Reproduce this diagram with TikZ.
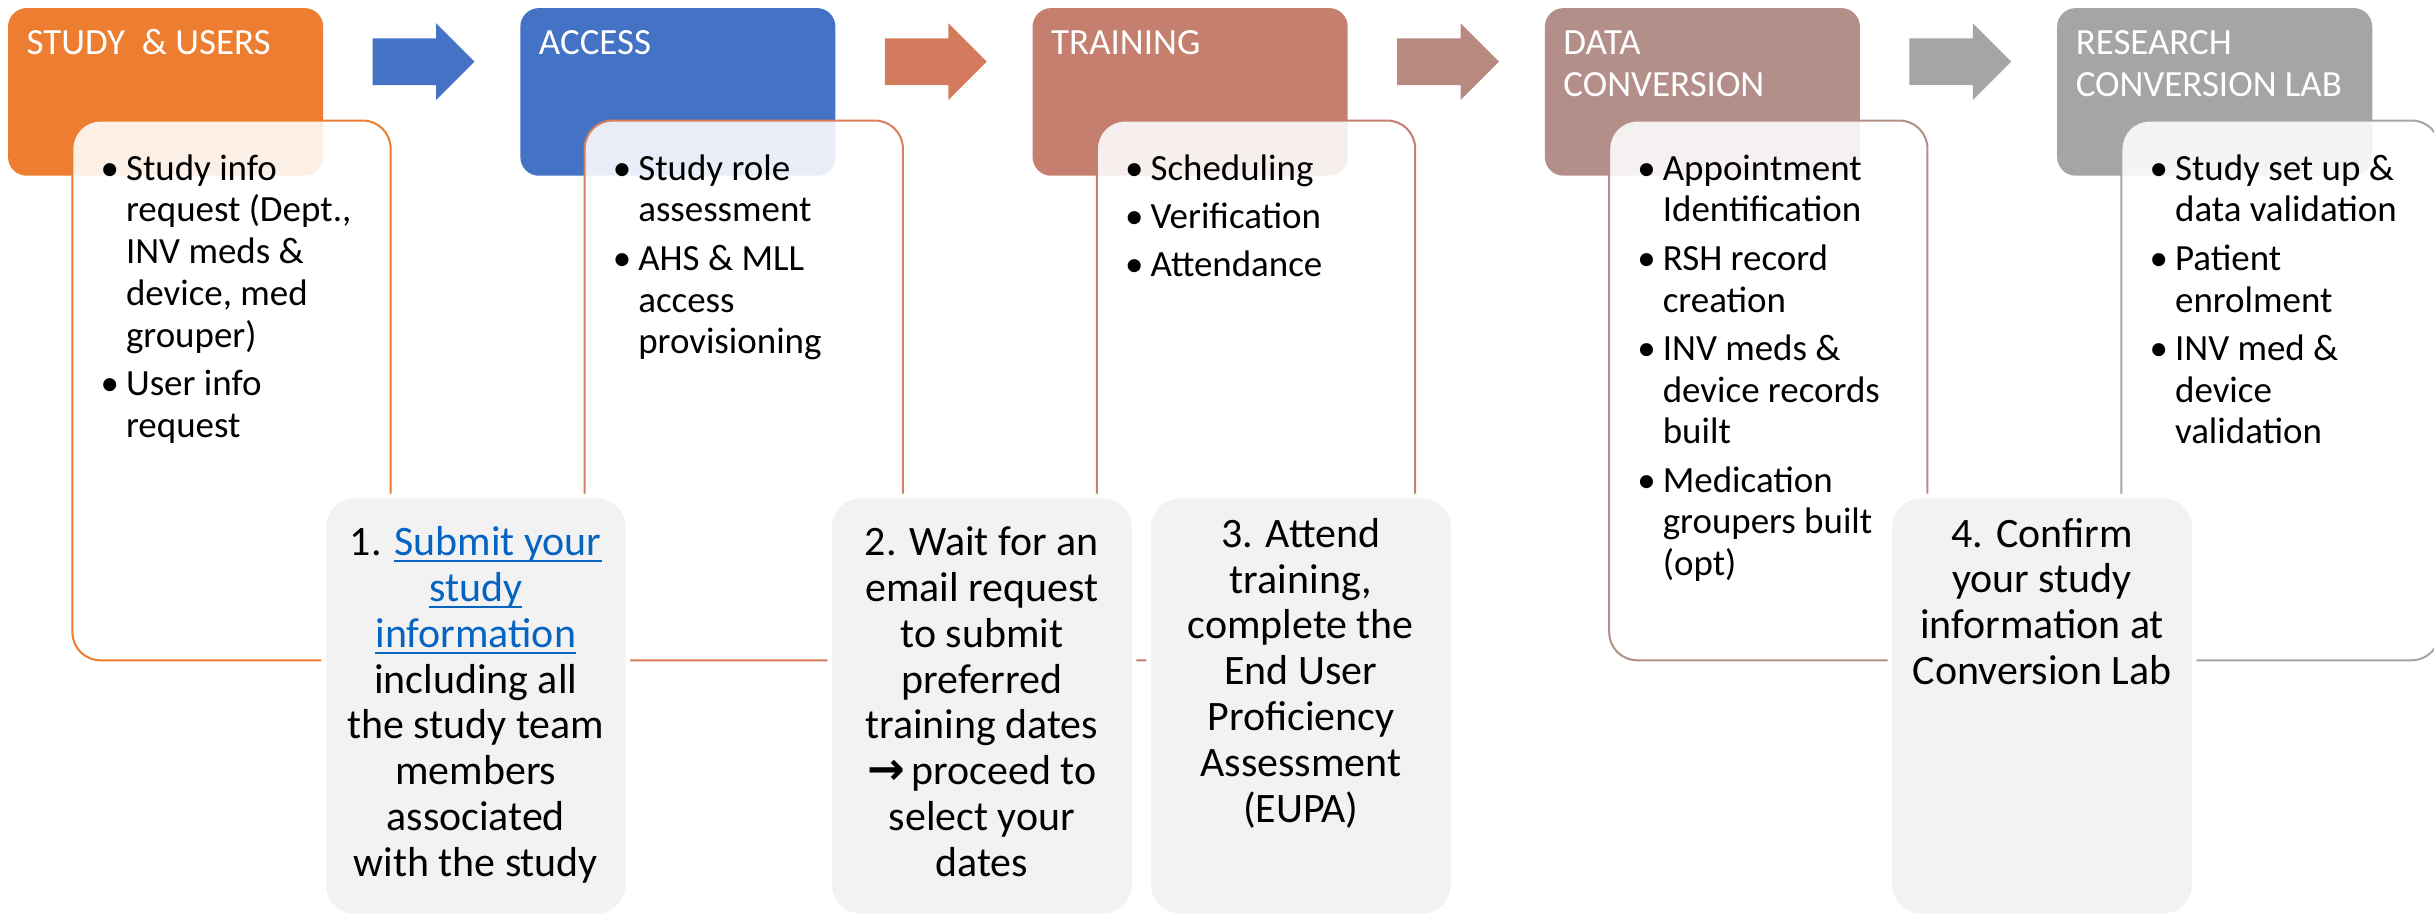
\documentclass[tikz,border=0pt]{standalone}
\usepackage{fontspec}
\setmainfont{Carlito}
\newfontfamily\symf{DejaVu Sans}
\definecolor{cOrange}{HTML}{ED7D31}
\definecolor{cBlue}{HTML}{4472C4}
\definecolor{cArr2}{HTML}{D37B5C}
\definecolor{cOut2}{HTML}{D87E5C}
\definecolor{cTrain}{HTML}{C47F6F}
\definecolor{cArr3}{HTML}{B98A82}
\definecolor{cData}{HTML}{B48F89}
\definecolor{cGray}{HTML}{A5A5A5}
\definecolor{cStep}{HTML}{F2F2F2}
\definecolor{linkblue}{HTML}{0563C1}
\newcommand\bul{\leavevmode\makebox[0pt][r]{\textbullet\hspace{4.5pt}}}
\newcommand\lnk[1]{\leavevmode{\color{linkblue}\setbox0\hbox{#1}\rlap{\rule[-4pt]{\wd0}{1.2pt}}\box0}}
\tikzset{
  hdr/.style={rectangle, rounded corners=12pt, minimum width=203pt, minimum height=108pt, anchor=north west, inner sep=0pt, draw=none},
  ttl/.style={anchor=base west, inner sep=0pt, text=white, font=\fontsize{23.8}{27}\selectfont, align=left},
  cbox/.style={rectangle, rounded corners=18pt, minimum width=205pt, minimum height=347.7pt, anchor=north west, inner sep=0pt, fill=white, fill opacity=0.88, line width=1.3pt},
  bultxt/.style={anchor=base west, inner sep=0pt, font=\fontsize{23.8}{27}\selectfont},
  stepbox/.style={rectangle, rounded corners=20pt, minimum width=196pt, minimum height=270.5pt, anchor=north west, inner sep=0pt, fill=cStep, draw=white, line width=3pt},
  steptxt/.style={anchor=base, inner sep=0pt, font=\fontsize{27}{29.5}\selectfont}
}
\begin{document}
\begin{tikzpicture}[x=1pt,y=-1pt]
\useasboundingbox (0,0) rectangle (1568,589.45);
\clip (0,0) rectangle (1568,589.45);
% headers
\node[hdr, fill=cOrange] (h1) at (5,5) {};
\node[hdr, fill=cBlue] (h2) at (335,5) {};
\node[hdr, fill=cTrain] (h3) at (665,5) {};
\node[hdr, fill=cData] (h4) at (995,5) {};
\node[hdr, fill=cGray] (h5) at (1325,5) {};
\node[ttl] (t1) at ([shift={(12pt,-30.4pt)}]h1.north west) {STUDY\ \ \& USERS};
\node[ttl] (t2) at ([shift={(12pt,-30.4pt)}]h2.north west) {ACCESS};
\node[ttl] (t3) at ([shift={(12pt,-30.4pt)}]h3.north west) {TRAINING};
\node[ttl] (t4) at ([shift={(12pt,-30.4pt)}]h4.north west) {\parbox[t]{190pt}{DATA\\CONVERSION}};
\node[ttl] (t5) at ([shift={(12pt,-30.4pt)}]h5.north west) {\parbox[t]{190pt}{RESEARCH\\CONVERSION LAB}};
% block arrows
\foreach \i/\c in {0/cBlue,1/cArr2,2/cArr3,3/cGray}{
  \fill[\c] ({240+330*\i},24.7) -- ({281+330*\i},24.7) -- ({281+330*\i},15) -- ({305.7+330*\i},39.7)
     -- ({281+330*\i},64.4) -- ({281+330*\i},54.8) -- ({240+330*\i},54.8) -- cycle;
}
% content boxes
\node[cbox, draw=cOrange] (c1) at (46,77) {};
\node[cbox, draw=cOut2] (c2) at (376,77) {};
\node[cbox, draw=cTrain] (c3) at (706,77) {};
\node[cbox, draw=cData] (c4) at (1036,77) {};
\node[cbox, draw=cGray] (c5) at (1366,77) {};
\node[bultxt] (b1) at ([shift={(35pt,-39pt)}]c1.north west) {\parbox[t]{170pt}{\raggedright
\bul Study info\\ request (Dept.,\\ INV meds \&\\ device, med\\ grouper)\\[4pt]
\bul User info\\ request}};
\node[bultxt] (b2) at ([shift={(35pt,-39pt)}]c2.north west) {\parbox[t]{170pt}{\raggedright
\bul Study role\\ assessment\\[4pt]
\bul AHS \& MLL\\ access\\ provisioning}};
\node[bultxt] (b3) at ([shift={(35pt,-39pt)}]c3.north west) {\parbox[t]{170pt}{\raggedright
\bul Scheduling\\[4pt]
\bul Verification\\[4pt]
\bul Attendance}};
\node[bultxt] (b4) at ([shift={(35pt,-39pt)}]c4.north west) {\parbox[t]{170pt}{\raggedright
\bul Appointment\\ Identification\\[4pt]
\bul RSH record\\ creation\\[4pt]
\bul INV meds \&\\ device records\\ built\\[4pt]
\bul Medication\\ groupers built\\ (opt)}};
\node[bultxt] (b5) at ([shift={(35pt,-39pt)}]c5.north west) {\parbox[t]{170pt}{\raggedright
\bul Study set up \&\\ data validation\\[4pt]
\bul Patient\\ enrolment\\[4pt]
\bul INV med \&\\ device\\ validation}};
% step boxes
\node[stepbox] (s1) at (207,318) {};
\node[stepbox] (s2) at (533,318) {};
\node[stepbox] (s3) at (738.5,318) {};
\node[stepbox] (s4) at (1216,318) {};
\node[steptxt] (st1) at ([yshift=-40pt]s1.north) {\parbox[t]{196pt}{\centering
1. \lnk{Submit your}\\ \lnk{study}\\ \lnk{information}\\ including all\\ the study team\\ members\\ associated\\ with the study}};
\node[steptxt] (st2) at ([yshift=-40pt]s2.north) {\parbox[t]{196pt}{\centering
2. Wait for an\\ email request\\ to submit\\ preferred\\ training dates\\ {\symf\bfseries\fontsize{29}{29.5}\selectfont →}\,proceed to\\ select your\\ dates}};
\node[steptxt] (st3) at ([yshift=-34.6pt]s3.north) {\parbox[t]{196pt}{\centering
3. Attend\\ training,\\ complete the\\ End User\\ Proficiency\\ Assessment\\ (EUPA)}};
\node[steptxt] (st4) at ([yshift=-34.4pt]s4.north) {\parbox[t]{196pt}{\centering
4. Confirm\\ your study\\ information at\\ Conversion Lab}};
\end{tikzpicture}
\end{document}
